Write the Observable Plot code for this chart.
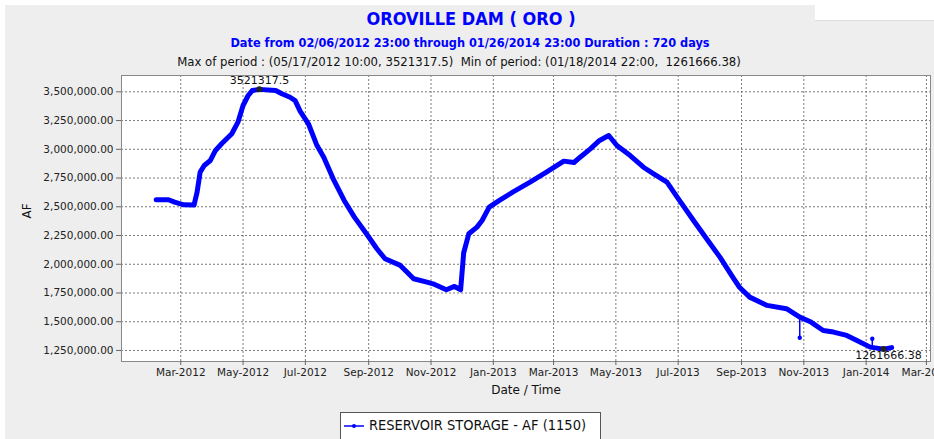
<!DOCTYPE html>
<html><head><meta charset="utf-8">
<script src="https://cdn.jsdelivr.net/npm/d3@7"></script>
<script src="https://cdn.jsdelivr.net/npm/@observablehq/plot@0.6"></script>
<style>
html,body{margin:0;padding:0;background:#eeeeee;width:934px;height:439px;overflow:hidden;}
#wrap{position:relative;width:934px;height:439px;}
.t{position:absolute;white-space:nowrap;transform:translate(-50%,-50%);line-height:1;}
#title{left:471px;top:18px;font:bold 18px "DejaVu Sans Condensed",sans-serif;color:#0000ff;}
#sub{left:470px;top:42px;font:bold 12.6px "DejaVu Sans Condensed",sans-serif;color:#0000ff;}
#stats{left:459px;top:61px;font:13px "DejaVu Sans Condensed",sans-serif;color:#111;}
#chart{position:absolute;left:0;top:70px;}
#legend{position:absolute;left:340px;top:412px;width:261px;height:30px;background:#fff;border:1px solid #555;box-sizing:border-box;font:14.5px "DejaVu Sans Condensed",sans-serif;color:#111;}
#legend svg{position:absolute;left:2px;top:6px;}
#legend span{position:absolute;left:28px;top:4px;white-space:nowrap;}
#wtop{position:absolute;left:0;top:0;width:934px;height:5px;background:#fff;}
#wleft{position:absolute;left:0;top:0;width:5px;height:439px;background:#fff;}
#wbox{position:absolute;left:815px;top:0;width:119px;height:20px;background:#fff;border-bottom:1px solid #ddd;}
</style></head>
<body><div id="wrap">
<div id="wtop"></div><div id="wleft"></div><div id="wbox"></div>
<div class="t" id="title">OROVILLE DAM ( ORO )</div>
<div class="t" id="sub">Date from 02/06/2012 23:00 through 01/26/2014 23:00 Duration : 720 days</div>
<div class="t" id="stats">Max of period : (05/17/2012 10:00, 3521317.5)&nbsp; Min of period: (01/18/2014 22:00,&nbsp; 1261666.38)</div>
<div id="chart"></div>
<div id="legend"><svg width="24" height="14"><line x1="1" x2="21" y1="7" y2="7" stroke="#0000ff" stroke-width="1.5"/><circle cx="11" cy="7" r="2" fill="#0000ff"/></svg><span>RESERVOIR STORAGE - AF (1150)</span></div>
</div>
<script>
const dates = ["2012-02-06","2012-02-18","2012-02-24","2012-03-04","2012-03-14","2012-03-17","2012-03-20","2012-03-24","2012-03-30","2012-04-04","2012-04-10","2012-04-20","2012-04-26","2012-05-01","2012-05-06","2012-05-10","2012-05-17","2012-06-02","2012-06-08","2012-06-16","2012-06-21","2012-06-26","2012-07-04","2012-07-12","2012-07-19","2012-07-29","2012-08-08","2012-08-18","2012-08-31","2012-09-09","2012-09-17","2012-10-02","2012-10-15","2012-10-28","2012-11-03","2012-11-16","2012-11-24","2012-11-30","2012-12-03","2012-12-08","2012-12-16","2012-12-21","2012-12-28","2013-01-07","2013-01-20","2013-02-06","2013-02-22","2013-03-11","2013-03-21","2013-03-27","2013-04-06","2013-04-15","2013-04-24","2013-05-02","2013-05-15","2013-05-28","2013-06-07","2013-06-20","2013-06-30","2013-07-16","2013-07-29","2013-08-11","2013-08-24","2013-08-30","2013-09-09","2013-09-26","2013-10-15","2013-10-28","2013-11-08","2013-11-20","2013-11-30","2013-12-13","2013-12-23","2014-01-05","2014-01-18","2014-01-26"];
const storage = [2561000,2561000,2540000,2517000,2515000,2627000,2801000,2859000,2903000,2990000,3048000,3135000,3236000,3381000,3468000,3511000,3521317.5,3511000,3483000,3453000,3424000,3330000,3222000,3040000,2931000,2729000,2555000,2410000,2250000,2135000,2048000,1990000,1874000,1844000,1830000,1778000,1807000,1778000,2100000,2265000,2323000,2381000,2497000,2555000,2627000,2714000,2801000,2897000,2885000,2931000,3004000,3077000,3120000,3033000,2946000,2844000,2787000,2714000,2584000,2381000,2220000,2060000,1880000,1800000,1714000,1642000,1613000,1540000,1497000,1424000,1410000,1381000,1337000,1279000,1261666.38,1275000];
const spikeDates = ["2013-10-28","2014-01-07"];
const spikeBase = [1530000,1277000];
const spikeValues = [1361000,1352000];
const xTicks = ["2012-03-01","2012-05-01","2012-07-01","2012-09-01","2012-11-01","2013-01-01","2013-03-01","2013-05-01","2013-07-01","2013-09-01","2013-11-01","2014-01-01","2014-03-01"];
const yTicks = [1250000,1500000,1750000,2000000,2250000,2500000,2750000,3000000,3250000,3500000];
const maxPoint = {date:"2012-05-17", value:3521317.5, label:"3521317.5"};
const minPoint = {date:"2014-01-18", value:1261666.38, label:"1261666.38"};

const data = dates.map((d,i)=>({date:new Date(d), value:storage[i]}));
const spikes = spikeDates.map((d,i)=>({date:new Date(d), base:spikeBase[i], value:spikeValues[i]}));
const ext = [maxPoint, minPoint].map(p=>({...p, date:new Date(p.date)}));
const xt = xTicks.map(d=>new Date(d));
const grid = {stroke:"#7a7a7a", strokeOpacity:1, strokeDasharray:"2,2", strokeWidth:1};

const chart = Plot.plot({
  width:934, height:335, marginLeft:121, marginRight:4, marginTop:5, marginBottom:44,
  style:{background:"transparent", fontFamily:"DejaVu Sans, sans-serif", fontSize:"10.5px", color:"#222"},
  x:{type:"utc", domain:[new Date("2012-01-03"), new Date("2014-03-05")]},
  y:{domain:[1154000, 3642000]},
  marks:[
    Plot.frame({fill:"white", stroke:"none"}),
    Plot.gridX(xt, grid),
    Plot.gridY(yTicks, grid),
    Plot.frame({stroke:"#888"}),
    Plot.axisX(xt, {tickFormat:d3.utcFormat("%b-%Y"), tickSize:4, tickPadding:3, label:null, stroke:"#666"}),
    Plot.axisY(yTicks, {tickFormat:d3.format(",.2f"), tickSize:5, tickPadding:3, label:null, stroke:"#666"}),
    Plot.ruleX(spikes, {x:"date", y1:"base", y2:"value", stroke:"#0000ff", strokeWidth:1.5}),
    Plot.dot(spikes, {x:"date", y:"value", r:2.2, fill:"#0000ff"}),
    Plot.line(data, {x:"date", y:"value", stroke:"#0000ff", strokeWidth:5, strokeLinejoin:"round"}),
    Plot.dot(ext, {x:"date", y:"value", r:3, fill:"#222"}),
    Plot.text([ext[0]], {x:"date", y:"value", text:"label", dy:-9, fill:"#111", fontSize:11}),
    Plot.text([ext[1]], {x:"date", y:"value", text:"label", dx:5, dy:6, fill:"#111", fontSize:11}),
    Plot.text(["AF"], {frameAnchor:"left", dx:-94, rotate:-90, fontSize:12, fill:"#111"}),
    Plot.text(["Date / Time"], {frameAnchor:"bottom", dy:32, fontSize:12, fill:"#111"})
  ]
});
document.getElementById("chart").appendChild(chart);
</script>
</body></html>
